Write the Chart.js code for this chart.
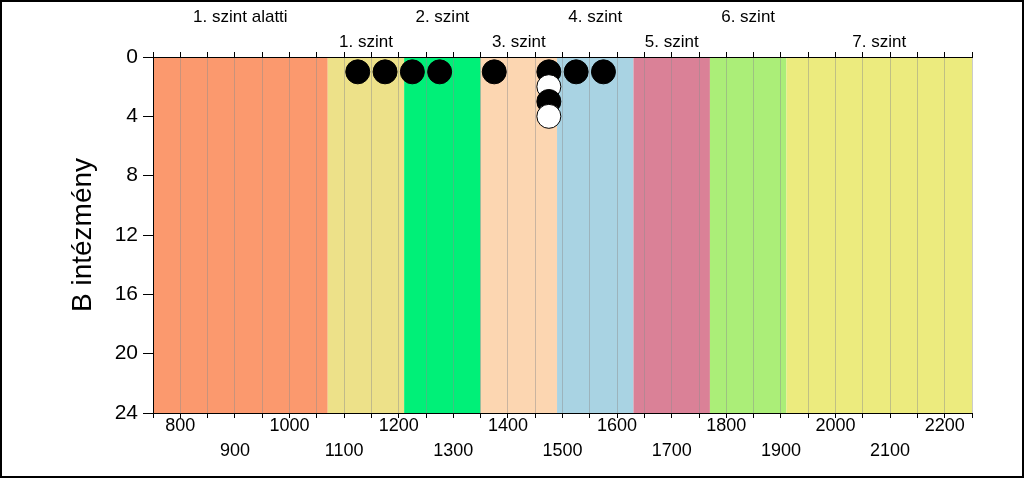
<!DOCTYPE html>
<html>
<head>
<meta charset="utf-8">
<script src="https://cdn.jsdelivr.net/npm/chart.js@4/dist/chart.umd.min.js"></script>
<style>
  html, body { margin: 0; padding: 0; background: #fff; }
  #wrap { width: 1024px; height: 478px; position: relative; }
</style>
</head>
<body>
<div id="wrap"><canvas id="c" width="1024" height="478"></canvas></div>
<script>
// ---- data ----
const bandNames  = ['1. szint alatti', '1. szint', '2. szint', '3. szint', '4. szint', '5. szint', '6. szint', '7. szint'];
const bandStarts = [750, 1070, 1210, 1350, 1490, 1630, 1770, 1910];
const bandEnds   = [1070, 1210, 1350, 1490, 1630, 1770, 1910, 2250];

const pointX      = [1125, 1175, 1225, 1275, 1375, 1475, 1475, 1475, 1475, 1525, 1575];
const pointY      = [1, 1, 1, 1, 1, 1, 2, 3, 4, 1, 1];
const pointFilled = [true, true, true, true, true, true, false, true, false, true, true];

const xTickRow1 = [800, 1000, 1200, 1400, 1600, 1800, 2000, 2200];
const xTickRow2 = [900, 1100, 1300, 1500, 1700, 1900, 2100];
const yTicks    = [0, 4, 8, 12, 16, 20, 24];
const yTitle    = 'B intézmény';

// ---- styles ----
const bandColors = ['#FB996E', '#EDE189', '#00F078', '#FCD6B1', '#A9D3E3', '#DA8197', '#ABEE78', '#ECEB7E'];
const FONT = 'Arial, "Liberation Sans", sans-serif';

Chart.defaults.font.family = FONT;
Chart.defaults.color = '#000';

const bandPlugin = {
  id: 'bands',
  beforeDraw(chart) {
    const ctx = chart.ctx, xs = chart.scales.x, a = chart.chartArea;
    ctx.save();
    ctx.fillStyle = '#fff';
    ctx.fillRect(0, 0, chart.width, chart.height);
    bandStarts.forEach((s, i) => {
      const x0 = xs.getPixelForValue(s), x1 = xs.getPixelForValue(bandEnds[i]);
      ctx.fillStyle = bandColors[i];
      ctx.fillRect(x0, a.top, x1 - x0, a.bottom - a.top);
    });
    ctx.restore();
  },
  afterDraw(chart) {
    const ctx = chart.ctx, xs = chart.scales.x;
    ctx.save();
    ctx.fillStyle = '#000';
    ctx.font = '17px ' + FONT;
    ctx.textAlign = 'center';
    ctx.textBaseline = 'middle';
    bandNames.forEach((n, i) => {
      const cx = xs.getPixelForValue((bandStarts[i] + bandEnds[i]) / 2);
      ctx.fillText(n, cx, i % 2 === 0 ? 17 : 42);
    });
    ctx.strokeStyle = '#000';
    ctx.lineWidth = 2;
    ctx.strokeRect(1, 1, chart.width - 2, chart.height - 2);
    ctx.restore();
  }
};

new Chart(document.getElementById('c'), {
  type: 'scatter',
  data: {
    datasets: [{
      data: pointX.map((x, i) => ({ x: x, y: pointY[i] })),
      pointRadius: 12,
      pointHoverRadius: 12,
      pointBorderWidth: 1,
      pointBorderColor: '#000',
      pointBackgroundColor: pointFilled.map(f => f ? '#000' : '#fff'),
      clip: false
    }]
  },
  options: {
    responsive: false,
    animation: false,
    events: [],
    layout: { padding: { left: 66, right: 52, top: 0, bottom: 0 } },
    plugins: { legend: { display: false }, tooltip: { enabled: false } },
    scales: {
      x: {
        type: 'linear', position: 'bottom', min: 750, max: 2250,
        afterFit: s => { s.height = 65; },
        afterBuildTicks: s => { s.ticks = []; for (let v = 750; v <= 2250; v += 50) s.ticks.push({ value: v }); },
        ticks: {
          autoSkip: false, maxRotation: 0, padding: -4,
          font: { size: 18, lineHeight: '25px' },
          callback: v => xTickRow1.includes(v) ? [String(v), ''] : (xTickRow2.includes(v) ? ['', String(v)] : '')
        },
        grid: { color: 'rgba(140,140,140,0.45)', tickColor: '#000', tickLength: 5, drawTicks: true },
        border: { color: '#000', width: 1 }
      },
      x2: {
        type: 'linear', position: 'top', min: 750, max: 2250,
        afterFit: s => { s.height = 57; },
        afterBuildTicks: s => { s.ticks = []; for (let v = 750; v <= 2250; v += 50) s.ticks.push({ value: v }); },
        ticks: { autoSkip: false, maxRotation: 0, callback: () => '' },
        grid: { drawOnChartArea: false, tickColor: '#000', tickLength: 5 },
        border: { color: '#000', width: 1 }
      },
      y: {
        type: 'linear', reverse: true, min: 0, max: 24,
        afterFit: s => { s.width = 87; },
        afterBuildTicks: s => { s.ticks = yTicks.map(v => ({ value: v })); },
        ticks: { padding: 5, font: { size: 21 } },
        grid: { drawOnChartArea: false, tickColor: '#000', tickLength: 10 },
        border: { color: '#000', width: 1 },
        title: { display: true, text: yTitle, font: { size: 28, lineHeight: 1.2 }, padding: 0 }
      }
    }
  },
  plugins: [bandPlugin]
});
</script>
</body>
</html>
